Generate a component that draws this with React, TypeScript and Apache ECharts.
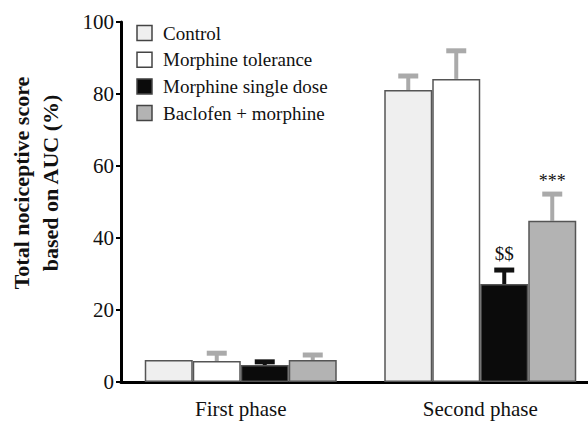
import React, { useEffect, useRef } from "react";
import * as echarts from "echarts";

const phases = ["First phase", "Second phase"];
const groupNames = ["Control", "Morphine tolerance", "Morphine single dose", "Baclofen + morphine"];
const controlVals = [6.1, 81.1];
const toleranceVals = [5.8, 84.2];
const singleDoseVals = [4.7, 27.2];
const baclofenVals = [6.1, 44.8];
const controlErr = [0, 3.9];
const toleranceErr = [2.2, 7.8];
const singleDoseErr = [0.9, 3.9];
const baclofenErr = [1.4, 7.4];
const annotations = [
  ["", "", "", ""],
  ["", "", "$$", "***"],
];
const yMin = 0;
const yMax = 100;
const yInterval = 20;

const FILLS = ["#efefef", "#ffffff", "#0b0b0b", "#b3b3b3"];
const BORDER = "#555555";
const ERR_COLORS = ["#aaaaaa", "#aaaaaa", "#111111", "#aaaaaa"];
const BAR_W = 48;
const FONT = "Liberation Serif";

export default function App() {
  const ref = useRef<HTMLDivElement>(null);
  useEffect(() => {
    if (!ref.current) return;
    const chart = echarts.init(ref.current, null, { renderer: "svg" });
    const values = [controlVals, toleranceVals, singleDoseVals, baclofenVals];
    const errs = [controlErr, toleranceErr, singleDoseErr, baclofenErr];
    const errData: any[] = [];
    const errMarks: string[] = [];
    phases.forEach((_, c) => {
      values.forEach((vals, g) => {
        errData.push([c, g, vals[c], errs[g][c]]);
        errMarks.push(annotations[c][g]);
      });
    });
    const barSeries = groupNames.map((name, g) => ({
      name,
      type: "bar",
      data: values[g],
      barWidth: BAR_W,
      barGap: "0%",
      z: 3,
      itemStyle: { color: FILLS[g], borderColor: BORDER, borderWidth: 1.5 },
    }));
    const legendItems: any[] = [];
    groupNames.forEach((name, i) => {
      const cy = 33 + i * 26.7;
      legendItems.push({
        type: "rect",
        shape: { x: 137, y: cy - 7.5, width: 15, height: 15 },
        style: { fill: FILLS[i], stroke: "#444", lineWidth: 1.5 },
      });
      legendItems.push({
        type: "text",
        x: 163,
        y: cy,
        style: {
          text: name,
          fontFamily: FONT,
          fontSize: 19,
          fontWeight: "normal",
          fill: "#111",
          align: "left",
          verticalAlign: "middle",
        },
      });
    });
    chart.setOption({
      animation: false,
      textStyle: { fontFamily: FONT },
      grid: { left: 121, right: 10, top: 22, bottom: 39 },
      xAxis: {
        type: "category",
        data: phases,
        axisLine: { lineStyle: { color: "#000", width: 3 } },
        axisTick: { show: false },
        axisLabel: { fontFamily: FONT, fontSize: 21, color: "#111", margin: 16 },
      },
      yAxis: {
        type: "value",
        min: yMin,
        max: yMax,
        interval: yInterval,
        splitLine: { show: false },
        axisLine: { show: true, lineStyle: { color: "#000", width: 3 } },
        axisTick: { show: true, length: 5, lineStyle: { color: "#000", width: 2 } },
        axisLabel: { fontFamily: FONT, fontSize: 21, color: "#111", margin: 7 },
      },
      graphic: [
        {
          type: "text",
          x: 36,
          y: 183,
          rotation: Math.PI / 2,
          style: {
            text: "Total nociceptive score\nbased on AUC (%)",
            fontFamily: FONT,
            fontSize: 22,
            fontWeight: "bold",
            fill: "#111",
            align: "center",
            verticalAlign: "middle",
            lineHeight: 29,
          },
        },
        ...legendItems,
      ],
      series: [
        ...barSeries,
        {
          type: "custom",
          z: 2,
          data: errData,
          renderItem: (params: any, api: any) => {
            const cat = api.value(0);
            const g = api.value(1);
            const v = api.value(2);
            const e = api.value(3);
            const base = api.coord([cat, v]);
            const top = api.coord([cat, v + e]);
            const x = base[0] + (g - 1.5) * BAR_W;
            const col = ERR_COLORS[g];
            const children: any[] = [];
            if (e > 0) {
              children.push({
                type: "line",
                shape: { x1: x, y1: base[1], x2: x, y2: top[1] },
                style: { stroke: col, lineWidth: 4 },
              });
              children.push({
                type: "line",
                shape: { x1: x - 10, y1: top[1], x2: x + 10, y2: top[1] },
                style: { stroke: col, lineWidth: 5 },
              });
            }
            const mark = errMarks[params.dataIndex];
            if (mark) {
              const isStar = mark.indexOf("*") >= 0;
              children.push({
                type: "text",
                x: x,
                y: top[1] - (isStar ? 4 : 7),
                style: {
                  text: mark,
                  fontFamily: FONT,
                  fontSize: isStar ? 18 : 19,
                  fill: "#111",
                  align: "center",
                  verticalAlign: "bottom",
                },
              });
            }
            return { type: "group", children };
          },
        },
      ],
    });
    return () => chart.dispose();
  }, []);
  return (
    <div style={{ position: "fixed", left: 0, top: 0, width: 588, height: 421, overflow: "hidden", background: "#fff" }}>
      <div ref={ref} style={{ width: 610, height: 421 }} />
    </div>
  );
}
